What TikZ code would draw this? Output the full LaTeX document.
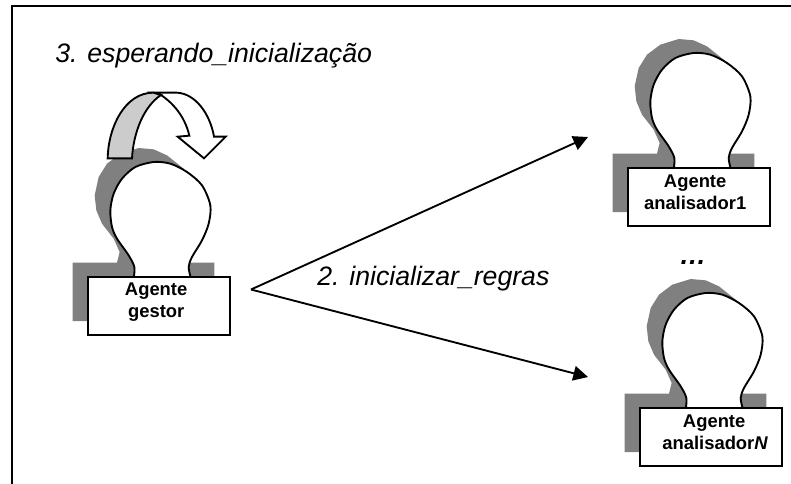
\documentclass[tikz,border=0pt]{standalone}
\usepackage{fontspec}
\setmainfont{Liberation Sans}
\usetikzlibrary{arrows.meta}
\definecolor{shadowgray}{gray}{0.5}
\definecolor{foldgray}{gray}{0.8}
\newcommand{\lift}[1]{\rule[-#1]{0pt}{0pt}}
\tikzset{
  x=.75pt,y=-.75pt,
  line/.style={draw=black,line width=1.4pt},
  agentbox/.style={line,fill=white,minimum width=106.5pt,minimum height=43.5pt,inner sep=0pt,align=center,
    font=\fontsize{13.8}{16.4}\selectfont\bfseries},
  lbl/.style={font=\fontsize{20}{24}\selectfont\itshape,inner sep=0pt,anchor=base west},
  conn/.style={line,-{Triangle[length=11pt,width=11pt]}}
}
\newcommand{\agentfig}[4]{%
  \begin{scope}[shift={(#2,#3)},x=.25pt,y=-.25pt]
  \begin{scope}[shift={(-83,-620)}]
    \fill[shadowgray] (37,752) -- (37,577) -- (170,577) -- (178,545) -- (160,505) -- (125,460) -- (108,420) -- (103,375)
      -- (115,320) -- (140,280) -- (180,250) -- (235,233) -- (280,237) -- (320,255) -- (370,295) -- (385,577) -- (462,577) -- (462,752) -- cycle;
    \draw[line,fill=white] plot[smooth] coordinates {(220,625) (222,590) (205,555) (170,505) (155,470) (150,420) (160,370) (185,325) (225,290) (280,275) (330,280) (380,305) (425,345) (450,405) (445,460) (425,510) (395,560) (385,590) (392,625)};
    \node[agentbox] (#1) at (296.5,707.5) {#4};
  \end{scope}
  \end{scope}}
\begin{document}
\begin{tikzpicture}
\useasboundingbox (0,0) rectangle (791,483);
\coordinate (frameTR) at (791,6);
\coordinate (frameTL) at (12,6);
\coordinate (frameBL) at (12,483);
\draw[line,line width=1.5pt,line cap=rect] (frameTR) -- (frameTL) -- (frameBL);
\agentfig{gestor}{88}{277}{\hspace*{-4.5pt}Agente\\\hspace*{-4.5pt}gestor\lift{8.5pt}}
\agentfig{anaA}{628}{168}{\hspace*{-6pt}Agente\\\hspace*{-6pt}analisador1\lift{7.5pt}}
\agentfig{anaN}{640}{408}{\hspace*{4.5pt}Agente\\\hspace*{6pt}analisador\textit{N}\lift{7.5pt}}
% curved arrow
\begin{scope}[shift={(60,70)},x=.25pt,y=-.25pt]
  \draw[line,fill=white] (280,68) -- (350,68) .. controls (405,70) and (450,130) .. (462,200) -- (497,200) -- (432,265) -- (353,200) -- (388,197) .. controls (375,140) and (340,100) .. (303,75) -- cycle;
  \draw[line,fill=foldgray] (143,265) .. controls (145,170) and (195,68) .. (280,68) -- (303,75) .. controls (250,110) and (220,190) .. (216,265) -- cycle;
\end{scope}
\coordinate (apex) at (251,289.5);
\coordinate (tipA) at (588,137);
\coordinate (tipN) at (588,377);
\draw[conn] (apex) -- (tipA);
\draw[conn] (apex) -- (tipN);
\node[lbl] (t3) at (55,62) {3. esperando\_inicialização};
\node[lbl] (t2) at (317,285) {2. inicializar\_regras};
\node[font=\fontsize{20}{24}\selectfont\bfseries\itshape,inner sep=0pt,anchor=base] (dots) at (693,264) {…};
\end{tikzpicture}
\end{document}
